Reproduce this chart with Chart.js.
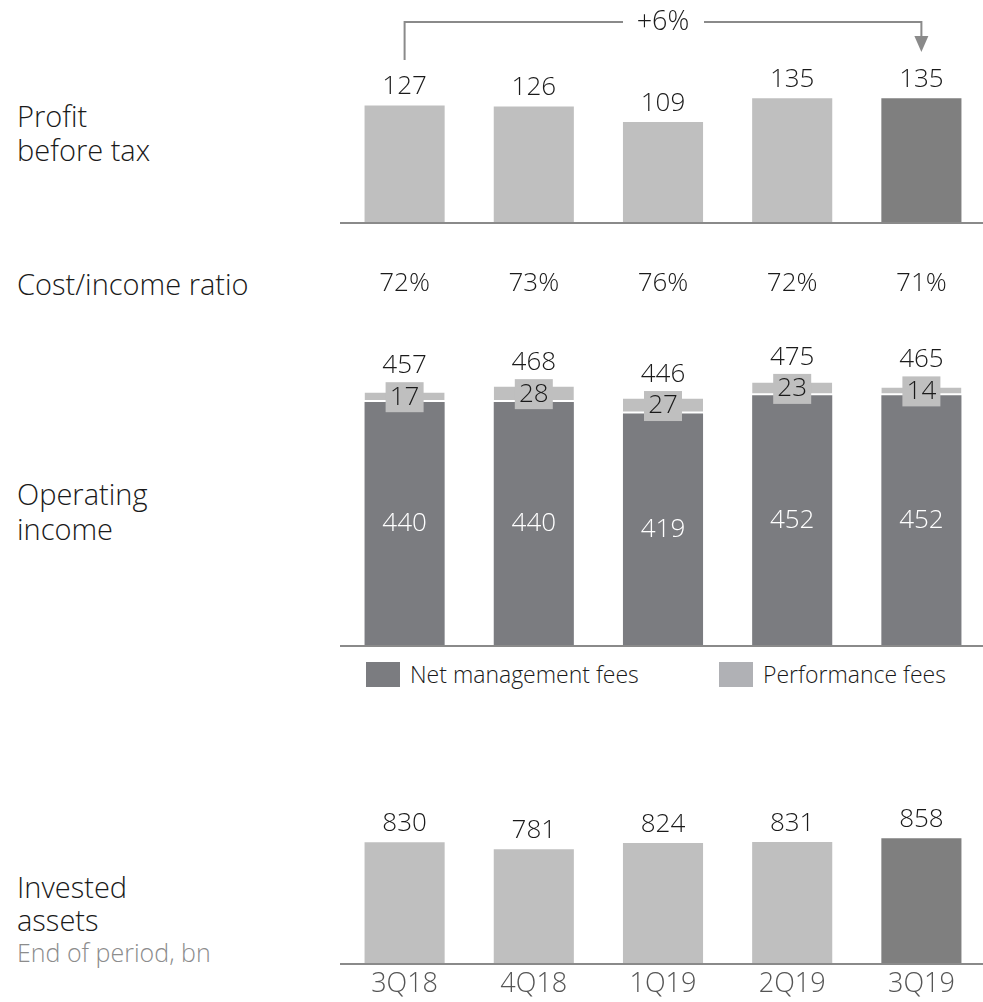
<!DOCTYPE html>
<html>
<head>
<meta charset="utf-8">
<script src="https://cdn.jsdelivr.net/npm/chart.js@4"></script>
<style>
    body { margin: 0; width: 983px; height: 1002px; position: relative; background: #fff; overflow: hidden; font-family: "Open Sans", sans-serif; }
    .panel { position: absolute; left: 340px; width: 646px; }
    .lbl { position: absolute; left: 17px; font-size: 29px; line-height: 34px; color: #1a1a1a; font-weight: 300; white-space: nowrap; }
    .sub { position: absolute; left: 17px; font-size: 25px; line-height: 26px; color: #8c8c8c; font-weight: 300; white-space: nowrap; }
    .legend { position: absolute; top: 662px; font-size: 23px; line-height: 25px; color: #1a1a1a; font-weight: 300; white-space: nowrap; }
    .legend span { display: inline-block; width: 34px; height: 25px; vertical-align: top; margin-right: 10px; }
</style>
</head>
<body>
<div class="lbl" style="top:99px">Profit<br>before tax</div>
<div class="lbl" style="top:267px">Cost/income ratio</div>
<div class="lbl" style="top:476px;line-height:35px">Operating<br>income</div>
<div class="lbl" style="top:870px;line-height:33px">Invested<br>assets</div>
<div class="sub" style="top:939px">End of period, bn</div>
<div class="legend" style="left:366px"><span style="background:#7b7c80"></span>Net management fees</div>
<div class="legend" style="left:719px"><span style="background:#b0b1b5"></span>Performance fees</div>

<div class="panel" style="top:0"><canvas id="profit" width="646" height="224"></canvas></div>
<div class="panel" style="top:240px"><canvas id="income" width="646" height="407"></canvas></div>
<div class="panel" style="top:800px"><canvas id="assets" width="646" height="202"></canvas></div>

<script>
// data
const quarters = ['3Q18', '4Q18', '1Q19', '2Q19', '3Q19'];
const profitBeforeTax = [127, 126, 109, 135, 135];
const profitChange = '+6%';
const costIncomeRatio = ['72%', '73%', '76%', '72%', '71%'];
const netManagementFees = [440, 440, 419, 452, 452];
const performanceFees = [17, 28, 27, 23, 14];
const operatingIncome = [457, 468, 446, 475, 465];
const investedAssets = [830, 781, 824, 831, 858];

const FONT = '"Open Sans", sans-serif';
const NUM_FONT = '300 26px ' + FONT;
const LIGHT = '#bfbfbf';
const DARK = '#7f7f7f';
const LINE = '#8a8a8a';
const highlight = (vals) => vals.map((v, i) => i === vals.length - 1 ? DARK : LIGHT);

// base options shared by every panel
function baseOptions(max, padBottom) {
    return {
        responsive: false,
        animation: false,
        layout: { padding: { left: 0, right: 0, top: 0, bottom: padBottom } },
        plugins: { legend: { display: false }, tooltip: { enabled: false } },
        scales: {
            x: { display: false, stacked: true },
            y: { display: false, stacked: true, min: 0, max: max }
        }
    };
}

// baseline under the bars
const baseline = {
    id: 'baseline',
    afterDatasetsDraw(chart) {
        const ctx = chart.ctx;
        ctx.save();
        ctx.strokeStyle = LINE;
        ctx.lineWidth = 2;
        ctx.beginPath();
        ctx.moveTo(0, chart.chartArea.bottom + 1);
        ctx.lineTo(chart.width, chart.chartArea.bottom + 1);
        ctx.stroke();
        ctx.restore();
    }
};

// value labels on top of bars
function topLabels(values, offset) {
    return {
        id: 'topLabels',
        afterDatasetsDraw(chart) {
            const ctx = chart.ctx;
            const meta = chart.getDatasetMeta(chart.data.datasets.length - 1);
            ctx.save();
            ctx.font = NUM_FONT;
            ctx.fillStyle = '#1a1a1a';
            ctx.textAlign = 'center';
            ctx.textBaseline = 'alphabetic';
            meta.data.forEach((bar, i) => {
                ctx.fillText(values[i], bar.x, bar.y - offset);
            });
            ctx.restore();
        }
    };
}

// +6% bracket
const bracket = {
    id: 'bracket',
    afterDatasetsDraw(chart) {
        const ctx = chart.ctx;
        const x = chart.scales.x;
        const x0 = x.getPixelForValue(0);
        const x1 = x.getPixelForValue(quarters.length - 1);
        const xm = (x0 + x1) / 2;
        ctx.save();
        ctx.strokeStyle = LINE;
        ctx.fillStyle = LINE;
        ctx.lineWidth = 2;
        ctx.beginPath();
        ctx.moveTo(x0, 60);
        ctx.lineTo(x0, 22);
        ctx.lineTo(xm - 40, 22);
        ctx.moveTo(xm + 41, 22);
        ctx.lineTo(x1, 22);
        ctx.lineTo(x1, 38);
        ctx.stroke();
        ctx.beginPath();
        ctx.moveTo(x1 - 7, 36);
        ctx.lineTo(x1 + 7, 36);
        ctx.lineTo(x1, 52);
        ctx.closePath();
        ctx.fill();
        ctx.font = '300 27px ' + FONT;
        ctx.fillStyle = '#1a1a1a';
        ctx.textAlign = 'center';
        ctx.textBaseline = 'middle';
        ctx.fillText(profitChange, xm, 22);
        ctx.restore();
    }
};

new Chart(document.getElementById('profit'), {
    type: 'bar',
    data: {
        labels: quarters,
        datasets: [{
            data: profitBeforeTax,
            backgroundColor: highlight(profitBeforeTax),
            barPercentage: 0.62,
            categoryPercentage: 1
        }]
    },
    options: baseOptions(242, 2),
    plugins: [baseline, topLabels(profitBeforeTax, 11), bracket]
});

// operating income: ratio row, segment labels, totals
const incomeLabels = {
    id: 'incomeLabels',
    afterDatasetsDraw(chart) {
        const ctx = chart.ctx;
        const net = chart.getDatasetMeta(0).data;
        const perf = chart.getDatasetMeta(1).data;
        ctx.save();
        ctx.font = NUM_FONT;
        ctx.textAlign = 'center';
        ctx.textBaseline = 'middle';
        net.forEach((bar, i) => {
            // cost/income ratio row
            ctx.fillStyle = '#1a1a1a';
            ctx.fillText(costIncomeRatio[i], bar.x, 44);
            // net management fees, white inside bar
            ctx.fillStyle = '#ffffff';
            ctx.fillText(netManagementFees[i], bar.x, (bar.y + bar.base) / 2);
            // performance fee box
            const p = perf[i];
            const cy = (p.y + p.base) / 2;
            ctx.fillStyle = LIGHT;
            ctx.fillRect(bar.x - 19, cy - 15, 38, 30);
            ctx.fillStyle = '#1a1a1a';
            ctx.fillText(performanceFees[i], bar.x, cy);
            // total above
            ctx.textBaseline = 'alphabetic';
            ctx.fillText(operatingIncome[i], bar.x, cy - 24);
            ctx.textBaseline = 'middle';
        });
        ctx.restore();
    }
};

new Chart(document.getElementById('income'), {
    type: 'bar',
    data: {
        labels: quarters,
        datasets: [{
            label: 'Net management fees',
            data: netManagementFees,
            backgroundColor: '#7b7c80',
            barPercentage: 0.62,
            categoryPercentage: 1
        }, {
            label: 'Performance fees',
            data: performanceFees,
            backgroundColor: LIGHT,
            borderColor: '#ffffff',
            borderWidth: { top: 0, left: 0, right: 0, bottom: 2 },
            borderSkipped: false,
            barPercentage: 0.62,
            categoryPercentage: 1
        }]
    },
    options: baseOptions(733, 2),
    plugins: [baseline, incomeLabels]
});

// quarter labels under the last panel
const quarterLabels = {
    id: 'quarterLabels',
    afterDatasetsDraw(chart) {
        const ctx = chart.ctx;
        const x = chart.scales.x;
        ctx.save();
        ctx.font = '300 27px ' + FONT;
        ctx.fillStyle = '#555555';
        ctx.textAlign = 'center';
        ctx.textBaseline = 'middle';
        quarters.forEach((q, i) => {
            ctx.fillText(q, x.getPixelForValue(i), chart.chartArea.bottom + 21);
        });
        ctx.restore();
    }
};

new Chart(document.getElementById('assets'), {
    type: 'bar',
    data: {
        labels: quarters,
        datasets: [{
            data: investedAssets,
            backgroundColor: highlight(investedAssets),
            barPercentage: 0.62,
            categoryPercentage: 1
        }]
    },
    options: baseOptions(1120, 39),
    plugins: [baseline, topLabels(investedAssets, 11), quarterLabels]
});
</script>
</body>
</html>
